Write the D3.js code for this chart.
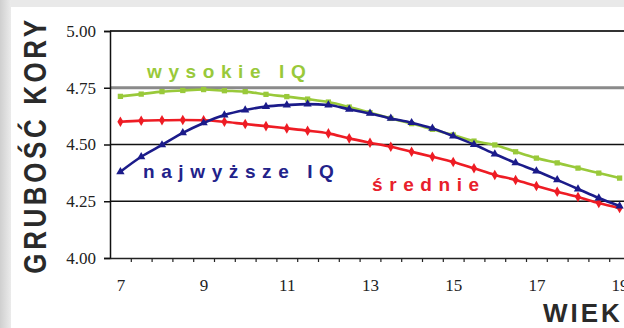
<!DOCTYPE html>
<html lang="pl">
<head>
  <meta charset="UTF-8">
  <title>Grubość kory a wiek</title>
  <script src="https://d3js.org/d3.v7.min.js"></script>
  <style>
    body { margin: 0; background: #fff; }
    svg { display: block; }
    .num { font-family: "Liberation Serif", "DejaVu Serif", serif; font-size: 17px; fill: #222; }
    .lbl { font-family: "Liberation Sans", Arial, sans-serif; font-weight: bold; }
  </style>
</head>
<body>
  <div id="chart"></div>
  <script>
    // age categories (every half year)
    const ages = [7, 7.5, 8, 8.5, 9, 9.5, 10, 10.5, 11, 11.5, 12, 12.5, 13,
                  13.5, 14, 14.5, 15, 15.5, 16, 16.5, 17, 17.5, 18, 18.5, 19];
    const wysokie = [4.712, 4.722, 4.733, 4.738, 4.742, 4.737, 4.733, 4.721, 4.711, 4.700, 4.687, 4.665, 4.640,
                     4.615, 4.592, 4.567, 4.542, 4.515, 4.498, 4.468, 4.440, 4.419, 4.396, 4.374, 4.352];
    const najwyzsze = [4.380, 4.446, 4.498, 4.551, 4.595, 4.630, 4.652, 4.667, 4.674, 4.678, 4.674, 4.655, 4.637,
                       4.615, 4.596, 4.571, 4.537, 4.500, 4.458, 4.419, 4.383, 4.344, 4.304, 4.264, 4.229];
    const srednie = [4.600, 4.605, 4.607, 4.608, 4.607, 4.600, 4.590, 4.581, 4.571, 4.561, 4.549, 4.527, 4.508,
                     4.490, 4.468, 4.446, 4.423, 4.395, 4.366, 4.344, 4.317, 4.292, 4.269, 4.242, 4.220];
    const yTicks = [4.00, 4.25, 4.50, 4.75, 5.00];
    const xLabels = [7, 9, 11, 13, 15, 17, 19];

    const W = 624, H = 328;
    const svg = d3.select("#chart").append("svg")
      .attr("width", W).attr("height", H);

    // grey frame on top and left
    const defs = svg.append("defs");
    const grad = defs.append("linearGradient").attr("id", "edge");
    grad.append("stop").attr("offset", "0%").attr("stop-color", "#cfcfcf");
    grad.append("stop").attr("offset", "100%").attr("stop-color", "#ebebeb");
    svg.append("rect").attr("width", W).attr("height", 7).attr("fill", "#e9e9e9");
    svg.append("rect").attr("width", 11).attr("height", H).attr("fill", "url(#edge)");

    const x = d3.scaleLinear().domain([6.75, 19.25]).range([110, 630]);
    const y = d3.scaleLinear().domain([4, 5]).range([258, 31]);

    // grid lines
    const gridStyle = {
      "4.25": { c: "#111", w: 1.5 },
      "4.5": { c: "#111", w: 1.5 },
      "4.75": { c: "#8a8a8a", w: 3 },
      "5": { c: "#333", w: 2 }
    };
    svg.append("g").selectAll("line")
      .data(yTicks.filter(d => d > 4))
      .join("line")
      .attr("x1", 110).attr("x2", W)
      .attr("y1", d => y(d)).attr("y2", d => y(d))
      .attr("stroke", d => gridStyle[String(d)].c)
      .attr("stroke-width", d => gridStyle[String(d)].w);

    // y axis
    const yAxis = svg.append("g")
      .attr("transform", "translate(110,0)")
      .call(d3.axisLeft(y).tickValues(yTicks).tickFormat(d3.format(".2f")).tickSize(6).tickPadding(8));
    yAxis.attr("font-family", null).attr("font-size", null);
    yAxis.select(".domain").attr("stroke", "#111").attr("stroke-width", 1.5);
    yAxis.selectAll(".tick line").attr("stroke", "#111").attr("stroke-width", 1.5);
    yAxis.selectAll("text").attr("class", "num").attr("fill", null);

    // x axis: minor ticks between categories
    const minor = ages.slice(0, -1).map(a => a + 0.25);
    const xAxis = svg.append("g")
      .attr("transform", "translate(0,258)")
      .call(d3.axisBottom(x).tickValues(minor).tickFormat("").tickSize(4).tickSizeOuter(0));
    xAxis.select(".domain").attr("stroke", "#222").attr("stroke-width", 1.5);
    xAxis.selectAll(".tick line").attr("stroke", "#222").attr("stroke-width", 1.2);

    const xLab = svg.append("g")
      .attr("transform", "translate(0,258)")
      .call(d3.axisBottom(x).tickValues(xLabels).tickSize(0).tickPadding(21));
    xLab.attr("font-family", null).attr("font-size", null);
    xLab.select(".domain").remove();
    xLab.selectAll("text").attr("class", "num").attr("fill", null);

    // series
    const series = [
      { name: "wysokie IQ", vals: wysokie, color: "#99c93a", shape: d3.symbolSquare, size: 28 },
      { name: "srednie", vals: srednie, color: "#ee1c24", shape: d3.symbolDiamond, size: 32 },
      { name: "najwyzsze IQ", vals: najwyzsze, color: "#1b1b8a", shape: d3.symbolTriangle, size: 30 }
    ];
    const line = d3.line().x((d, i) => x(ages[i])).y(d => y(d)).curve(d3.curveMonotoneX);
    series.forEach(s => {
      svg.append("path")
        .attr("d", line(s.vals))
        .attr("fill", "none")
        .attr("stroke", s.color)
        .attr("stroke-width", 2.6);
      svg.append("g").selectAll("path")
        .data(s.vals)
        .join("path")
        .attr("transform", (d, i) => `translate(${x(ages[i])},${y(d)})`)
        .attr("d", d3.symbol().type(s.shape).size(s.size))
        .attr("fill", s.color);
    });

    // series labels
    const labels = [
      { text: "wysokie IQ", x: 147, y: 78, color: "#99c93a" },
      { text: "najwyższe IQ", x: 143, y: 178, color: "#22228a" },
      { text: "średnie", x: 372, y: 191, color: "#e8202c" }
    ];
    svg.append("g").selectAll("text")
      .data(labels)
      .join("text")
      .attr("class", "lbl")
      .attr("x", d => d.x).attr("y", d => d.y)
      .attr("fill", d => d.color)
      .attr("font-size", 19)
      .attr("letter-spacing", 6.6)
      .text(d => d.text);

    // axis titles
    svg.append("text")
      .attr("class", "lbl")
      .attr("transform", "translate(46,145) rotate(-90) scale(1,1.18)")
      .attr("text-anchor", "middle")
      .attr("font-size", 26)
      .attr("letter-spacing", 3.6)
      .attr("fill", "#2a2a2a")
      .text("GRUBOŚĆ KORY");

    svg.append("text")
      .attr("class", "lbl")
      .attr("x", 543).attr("y", 322)
      .attr("font-size", 26)
      .attr("letter-spacing", 3)
      .attr("fill", "#2a2a2a")
      .text("WIEK");
  </script>
</body>
</html>
